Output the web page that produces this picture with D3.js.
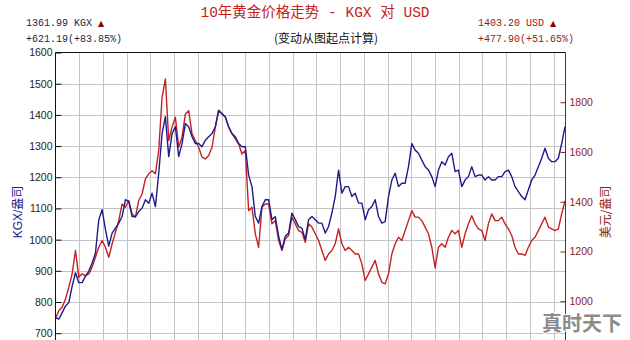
<!DOCTYPE html>
<html>
<head>
<meta charset="utf-8">
<script src="https://cdn.jsdelivr.net/npm/d3@7"></script>
<style>
  body { margin: 0; background: #fff; }
  svg { display: block; }
</style>
</head>
<body>
<script>
// KGX price (left axis), evenly spaced in time
var kgx = [
  750, 745, 766, 787, 798, 851, 894, 862, 862, 883, 899, 925, 957, 1064, 1096, 1032, 979, 1021, 1037, 1053,
  1074, 1128, 1122, 1074, 1074, 1090, 1101, 1128, 1117, 1149, 1106, 1213, 1340, 1394, 1266, 1340, 1362, 1266, 1308,
  1372, 1362, 1330, 1308, 1308, 1298, 1319, 1330, 1340, 1362, 1415, 1404, 1394, 1362, 1340, 1330, 1308, 1298, 1298,
  1207, 1170, 1074, 1053, 1106, 1128, 1128, 1064, 1074, 1011, 968, 1011, 1021, 1085, 1064, 1042, 1037, 1000, 1064,
  1074, 1064, 1053, 1053, 1021, 1042, 1085, 1138, 1223, 1149, 1170, 1170, 1138, 1149, 1117, 1117, 1064, 1096, 1106,
  1128, 1074, 1053, 1058, 1138, 1191, 1213, 1170, 1181, 1181, 1234, 1308, 1287, 1277, 1255, 1234, 1223, 1202, 1170,
  1223, 1250, 1239, 1266, 1277, 1218, 1223, 1170, 1191, 1202, 1234, 1202, 1207, 1207, 1191, 1202, 1191, 1191, 1202,
  1202, 1218, 1223, 1202, 1170, 1154, 1138, 1128, 1160, 1191, 1207, 1234, 1261, 1293, 1261, 1250, 1250, 1261, 1308, 1362
];

// Gold in USD (right axis)
var usd = [
  930, 962, 976, 1009, 1056, 1110, 1204, 1096, 1110, 1103, 1110, 1137, 1177, 1217, 1244, 1217, 1177, 1230, 1277, 1324,
  1391, 1378, 1405, 1351, 1338, 1405, 1431, 1492, 1512, 1525, 1512, 1606, 1820, 1894, 1646, 1700, 1740, 1619, 1659,
  1753, 1766, 1673, 1646, 1619, 1579, 1572, 1586, 1619, 1700, 1766, 1753, 1740, 1700, 1673, 1653, 1632, 1592, 1606,
  1364, 1378, 1271, 1217, 1378, 1391, 1391, 1311, 1324, 1244, 1204, 1251, 1264, 1338, 1311, 1284, 1277, 1237, 1311,
  1298, 1271, 1244, 1204, 1164, 1190, 1204, 1231, 1291, 1231, 1204, 1217, 1204, 1190, 1190, 1150, 1083, 1110, 1137,
  1164, 1110, 1076, 1070, 1110, 1190, 1231, 1257, 1244, 1284, 1324, 1364, 1338, 1338, 1324, 1298, 1271, 1217, 1134,
  1217, 1231, 1217, 1257, 1284, 1271, 1284, 1217, 1271, 1311, 1344, 1311, 1291, 1284, 1244, 1311, 1351, 1324, 1324,
  1338, 1311, 1291, 1264, 1217, 1190, 1190, 1184, 1217, 1244, 1257, 1284, 1311, 1338, 1298, 1291, 1284, 1291, 1351, 1403
];

var leftTicks = [700, 800, 900, 1000, 1100, 1200, 1300, 1400, 1500, 1600];
var rightTicks = [1000, 1200, 1400, 1600, 1800];
var gridCols = d3.range(1, 22); // vertical grid lines, in grid units

var title = "10年黄金价格走势 - KGX 对 USD";
var subtitle = "(变动从图起点计算)";
var kgxLast = "1361.99 KGX ";
var kgxChange = "+621.19(+83.85%)";
var usdLast = "1403.20 USD ";
var usdChange = "+477.90(+51.65%)";
var leftTitle = "KGX/盎司";
var rightTitle = "美元/盎司";

function chart() {
  var w = 630;
  var h = 340;
  var left = 55.5, right = 565.5, top = 52.5, bottom = 340;
  var navy = "#1c1c8c";
  var red = "#c42222";
  var darkRed = "#8e1c1c";

  var svg = d3.select("body")
              .append("svg")
              .attr("width", w)
              .attr("height", h);

  var x = d3.scaleLinear().domain([0, kgx.length - 1]).range([left, right - 0.5]);
  var gx = d3.scaleLinear().domain([0, 21.5]).range([left, right]);
  var yL = d3.scaleLinear().domain([700, 1600]).range([333.2, top]);
  var yR = d3.scaleLinear().domain([1000, 2000]).range([301.2, top]);

  // grid
  svg.append("g")
    .selectAll("line")
    .data(gridCols)
    .enter()
    .append("line")
    .attr("x1", function (d) { return Math.round(gx(d)) + 0.5; })
    .attr("x2", function (d) { return Math.round(gx(d)) + 0.5; })
    .attr("y1", top)
    .attr("y2", bottom)
    .attr("stroke", "#c4c4c4");

  svg.append("g")
    .selectAll("line")
    .data(leftTicks.slice(0, -1))
    .enter()
    .append("line")
    .attr("x1", left)
    .attr("x2", right)
    .attr("y1", function (d) { return Math.round(yL(d)) + 0.5; })
    .attr("y2", function (d) { return Math.round(yL(d)) + 0.5; })
    .attr("stroke", "#c4c4c4");

  // lines
  svg.append("clipPath").attr("id", "plot")
    .append("rect")
    .attr("x", left).attr("y", top)
    .attr("width", right - left).attr("height", bottom - top);

  svg.append("path")
    .datum(usd)
    .attr("clip-path", "url(#plot)")
    .attr("d", d3.line().x(function (d, i) { return x(i); }).y(function (d) { return yR(d); }))
    .attr("fill", "none")
    .attr("stroke", red)
    .attr("stroke-width", 1.4)
    .attr("stroke-linejoin", "round");

  svg.append("path")
    .datum(kgx)
    .attr("clip-path", "url(#plot)")
    .attr("d", d3.line().x(function (d, i) { return x(i); }).y(function (d) { return yL(d); }))
    .attr("fill", "none")
    .attr("stroke", navy)
    .attr("stroke-width", 1.4)
    .attr("stroke-linejoin", "round");

  // frame
  svg.append("line")
    .attr("x1", left).attr("x2", right).attr("y1", top).attr("y2", top)
    .attr("stroke", "#111");
  svg.append("line")
    .attr("x1", left).attr("x2", left).attr("y1", top).attr("y2", bottom)
    .attr("stroke", "#111");
  svg.append("line")
    .attr("x1", right).attr("x2", right).attr("y1", top).attr("y2", bottom)
    .attr("stroke", darkRed);

  // axes
  var axL = svg.append("g")
    .attr("transform", "translate(" + left + ",0)")
    .call(d3.axisLeft(yL).tickValues(leftTicks).tickFormat(d3.format("d"))
      .tickSizeInner(-6).tickSizeOuter(0).tickPadding(3));
  axL.select(".domain").remove();
  axL.selectAll("line").attr("stroke", "#111");
  axL.selectAll("text")
    .attr("font-family", "Liberation Sans, Arial, sans-serif")
    .attr("font-size", "10.5px")
    .attr("fill", "#222");

  var axR = svg.append("g")
    .attr("transform", "translate(" + right + ",0)")
    .call(d3.axisRight(yR).tickValues(rightTicks).tickFormat(d3.format("d"))
      .tickSizeInner(-5).tickSizeOuter(0).tickPadding(4));
  axR.select(".domain").remove();
  axR.selectAll("line").attr("stroke", darkRed);
  axR.selectAll("text")
    .attr("font-family", "Liberation Sans, Arial, sans-serif")
    .attr("font-size", "10.5px")
    .attr("fill", darkRed);

  // axis titles
  svg.append("text")
    .text(leftTitle)
    .attr("transform", "translate(22,212) rotate(-90)")
    .attr("text-anchor", "middle")
    .attr("font-family", "Liberation Sans, Noto Sans CJK SC, sans-serif")
    .attr("font-size", "12px")
    .attr("fill", navy);

  svg.append("text")
    .text(rightTitle)
    .attr("transform", "translate(610,212) rotate(-90)")
    .attr("text-anchor", "middle")
    .attr("font-family", "Noto Sans CJK SC, sans-serif")
    .attr("font-size", "12px")
    .attr("fill", darkRed);

  // titles
  svg.append("text")
    .text(title)
    .attr("x", 315)
    .attr("y", 17)
    .attr("text-anchor", "middle")
    .attr("font-family", "Liberation Mono, Noto Sans CJK SC, monospace")
    .attr("font-size", "14.5px")
    .attr("fill", red);

  svg.append("text")
    .text(subtitle)
    .attr("x", 326)
    .attr("y", 43)
    .attr("text-anchor", "middle")
    .attr("font-family", "Noto Sans CJK SC, sans-serif")
    .attr("font-size", "12px")
    .attr("fill", "#111");

  // last values
  var infos = [
    { x: 26, a: kgxLast, b: kgxChange, c: "#1e1e50" },
    { x: 478, a: usdLast, b: usdChange, c: darkRed }
  ];
  infos.forEach(function (o) {
    var t = svg.append("text")
      .attr("x", o.x)
      .attr("y", 26)
      .attr("font-family", "Liberation Mono, monospace")
      .attr("font-size", "10px")
      .attr("fill", o.c);
    t.append("tspan").text(o.a);
    t.append("tspan").text("▲").attr("fill", "#8b0000").attr("font-size", "8px").attr("font-family", "DejaVu Sans");
    svg.append("text")
      .text(o.b)
      .attr("x", o.x)
      .attr("y", 42)
      .attr("font-family", "Liberation Mono, monospace")
      .attr("font-size", "10px")
      .attr("fill", o.c);
  });

  // watermark
  svg.append("text")
    .text("真时天下")
    .attr("x", 582)
    .attr("y", 331)
    .attr("text-anchor", "middle")
    .attr("font-family", "Noto Sans CJK SC, sans-serif")
    .attr("font-weight", "bold")
    .attr("font-size", "20px")
    .attr("fill", "#8c8c8c")
    .attr("stroke", "#fff")
    .attr("stroke-width", 2)
    .attr("paint-order", "stroke");
}

chart();
</script>
</body>
</html>
